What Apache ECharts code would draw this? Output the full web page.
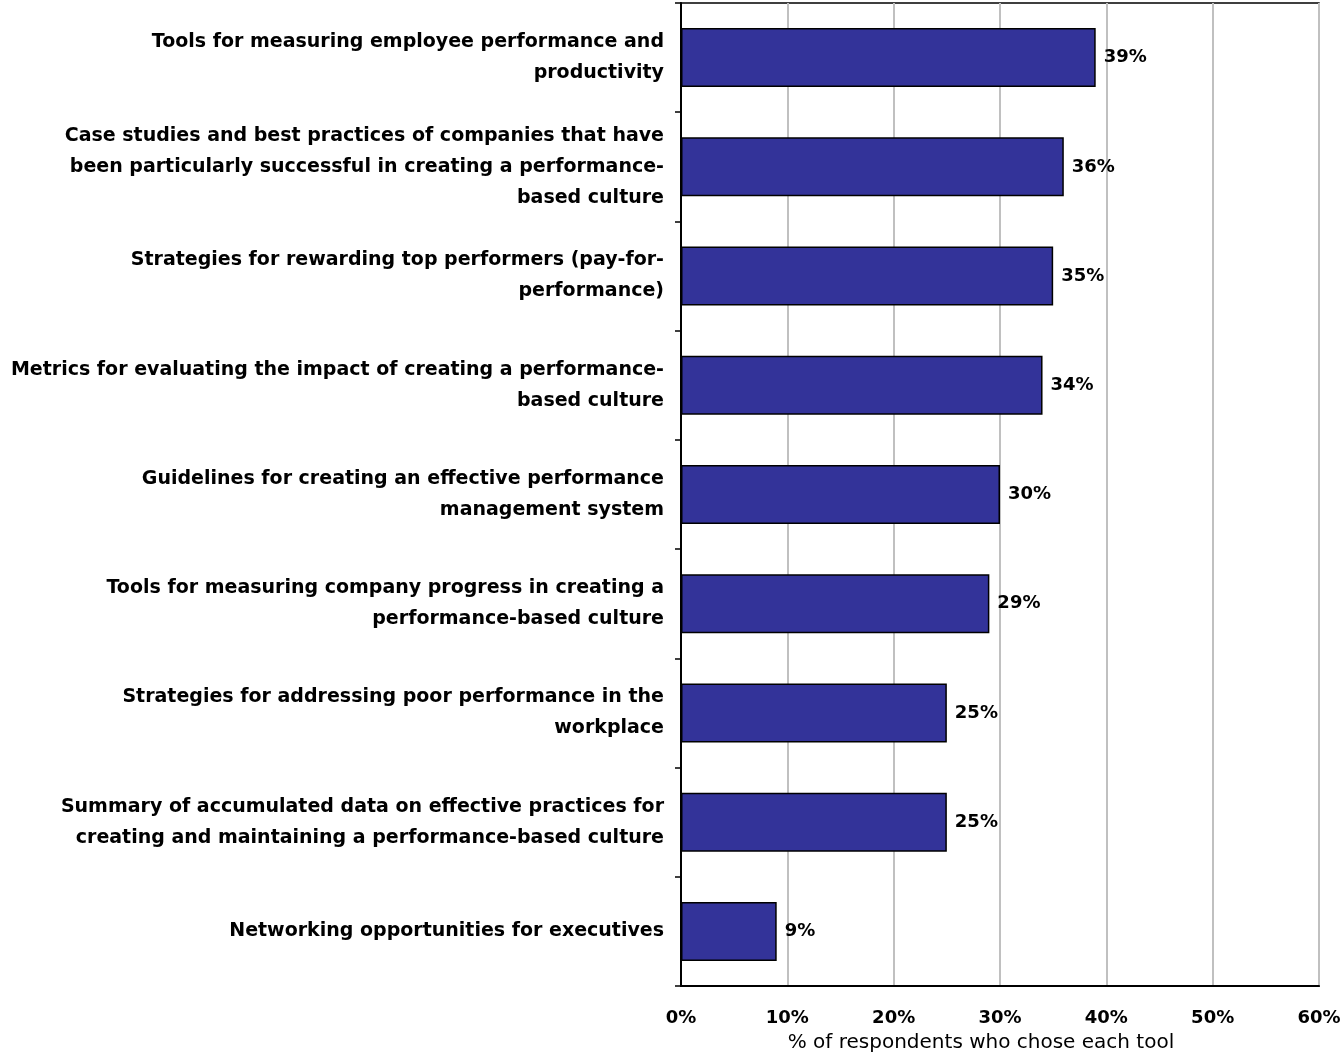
<!DOCTYPE html>
<html>
<head>
<meta charset="utf-8">
<script src="https://cdn.jsdelivr.net/npm/echarts@6/dist/echarts.min.js"></script>
<style>
  html, body { margin: 0; padding: 0; background: #ffffff; }
  #chart { width: 1341px; height: 1053px; }
</style>
</head>
<body>
<div id="chart"></div>
<script>
// Survey topics, top to bottom
const categories = [
  'Tools for measuring employee performance and\nproductivity',
  'Case studies and best practices of companies that have\nbeen particularly successful in creating a performance-\nbased culture',
  'Strategies for rewarding top performers (pay-for-\nperformance)',
  'Metrics for evaluating the impact of creating a performance-\nbased culture',
  'Guidelines for creating an effective performance\nmanagement system',
  'Tools for measuring company progress in creating a\nperformance-based culture',
  'Strategies for addressing poor performance in the\nworkplace',
  'Summary of accumulated data on effective practices for\ncreating and maintaining a performance-based culture',
  'Networking opportunities for executives'
];
// Share of respondents (%)
const values = [39, 36, 35, 34, 30, 29, 25, 25, 9];
const axisTitle = '% of respondents who chose each tool';

const chart = echarts.init(document.getElementById('chart'), null, { renderer: 'canvas' });
const FONT = '"DejaVu Sans", Arial, sans-serif';

chart.setOption({
  backgroundColor: '#ffffff',
  animation: false,
  grid: {
    left: 681, right: 22, top: 3, bottom: 67,
    outerBoundsMode: 'none', containLabel: false,
    show: true, borderColor: '#000000', borderWidth: 1.5, backgroundColor: 'transparent'
  },
  xAxis: {
    type: 'value',
    min: 0, max: 60, interval: 10,
    axisLine: { show: true, lineStyle: { color: '#000000', width: 2 } },
    axisTick: { show: false },
    splitLine: { show: true, lineStyle: { color: '#c0c0c0', width: 2 } },
    axisLabel: {
      formatter: '{value}%', margin: 23,
      color: '#000000', fontFamily: FONT, fontWeight: 'bold', fontSize: 18
    },
    name: axisTitle,
    nameLocation: 'middle',
    nameGap: 47,
    nameTextStyle: {
      color: '#000000', fontFamily: FONT, fontSize: 20, padding: [0, 38, 0, 0]
    }
  },
  yAxis: {
    type: 'category',
    data: categories,
    inverse: true,
    axisLine: { show: true, lineStyle: { color: '#000000', width: 2 } },
    axisTick: { show: true, length: 6, lineStyle: { color: '#000000', width: 1.5 } },
    axisLabel: {
      margin: 17, align: 'right',
      color: '#000000', fontFamily: FONT, fontWeight: 'bold', fontSize: 19, lineHeight: 31
    }
  },
  series: [{
    type: 'bar',
    data: values,
    barCategoryGap: '46%',
    itemStyle: { color: '#333399', borderColor: '#000000', borderWidth: 1.5 },
    label: {
      show: true, position: 'right', distance: 8,
      formatter: '{c}%',
      color: '#000000', fontFamily: FONT, fontWeight: 'bold', fontSize: 18
    }
  }]
});
</script>
</body>
</html>
